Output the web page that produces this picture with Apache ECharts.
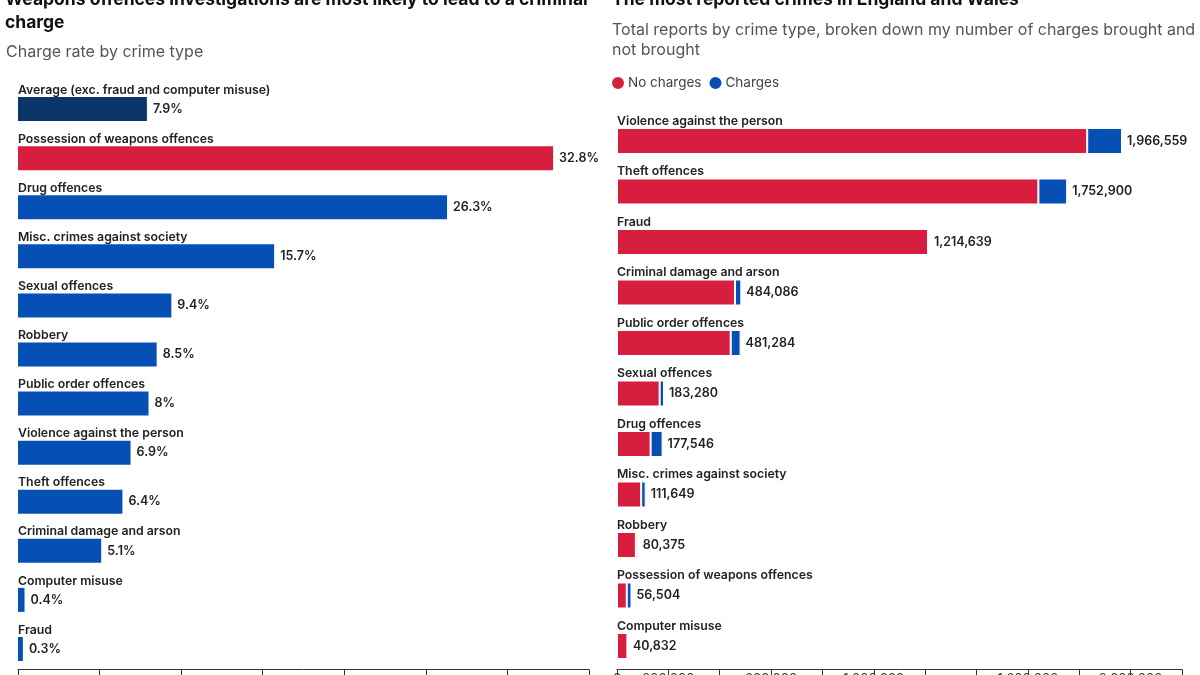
<!DOCTYPE html>
<html><head><meta charset="utf-8">
<script src="https://cdn.jsdelivr.net/npm/echarts@6/dist/echarts.min.js"></script>
<style>html,body{margin:0;padding:0;background:#fff}#c{width:1200px;height:675px}</style>
</head><body><div id="c"></div>
<script>
// ---- Left chart data: charge rate by crime type (%)
const rateCategories = [
  'Average (exc. fraud and computer misuse)',
  'Possession of weapons offences',
  'Drug offences',
  'Misc. crimes against society',
  'Sexual offences',
  'Robbery',
  'Public order offences',
  'Violence against the person',
  'Theft offences',
  'Criminal damage and arson',
  'Computer misuse',
  'Fraud'
];
const rateValues = [7.9, 32.8, 26.3, 15.7, 9.4, 8.5, 8, 6.9, 6.4, 5.1, 0.4, 0.3];

// ---- Right chart data: total reports, split by charges / no charges
const crimeCategories = [
  'Violence against the person',
  'Theft offences',
  'Fraud',
  'Criminal damage and arson',
  'Public order offences',
  'Sexual offences',
  'Drug offences',
  'Misc. crimes against society',
  'Robbery',
  'Possession of weapons offences',
  'Computer misuse'
];
const crimeTotals = [1966559, 1752900, 1214639, 484086, 481284, 183280, 177546, 111649, 80375, 56504, 40832];
const noChargesValues = [1830866, 1640714, 1210995, 459398, 442781, 166052, 130851, 94120, 73543, 37971, 40669];
const chargesValues = [135693, 112186, 3644, 24688, 38503, 17228, 46695, 17529, 6832, 18533, 163];
const crimeTickLabels = [0, 200000, 600000, 1000000, 1600000, 2000000];

const RED = '#d81e3f', BLUE = '#0650b5', NAVY = '#0b3468';
const FONT = 'Inter, "Noto Sans", sans-serif';
const fmt = v => Number(v).toLocaleString('en-US');

const chart = echarts.init(document.getElementById('c'), null, {renderer: 'canvas'});
chart.setOption({
  backgroundColor: '#fff',
  animation: false,
  textStyle: {fontFamily: FONT},
  title: [
    {text: 'Weapons offences investigations are most likely to lead to a criminal\ncharge',
     left: 5, top: -12, padding: 0,
     textStyle: {fontFamily: FONT, fontSize: 17.5, fontWeight: 700, color: '#111', lineHeight: 23}},
    {text: 'Charge rate by crime type', left: 6, top: 43, padding: 0,
     textStyle: {fontFamily: FONT, fontSize: 16, fontWeight: 400, color: '#555', lineHeight: 18}},
    {text: 'The most reported crimes in England and Wales', left: 612, top: -12, padding: 0,
     textStyle: {fontFamily: FONT, fontSize: 17.5, fontWeight: 700, color: '#111', lineHeight: 23}},
    {text: 'Total reports by crime type, broken down my number of charges brought and\nnot brought',
     left: 612, top: 20, padding: 0,
     textStyle: {fontFamily: FONT, fontSize: 16, fontWeight: 400, color: '#555', lineHeight: 20}}
  ],
  legend: {
    left: 610, top: 75, padding: 0, icon: 'circle', itemWidth: 14, itemHeight: 14, itemGap: 6,
    data: ['No charges', 'Charges'],
    textStyle: {fontFamily: FONT, fontSize: 13.5, color: '#444', padding: [0, 0, 0, -2]}
  },
  grid: [
    {left: 18, top: 84.5, width: 571, height: 589, containLabel: false, outerBoundsMode: 'none'},
    {left: 617, top: 115.75, width: 565, height: 555.5, containLabel: false, outerBoundsMode: 'none'}
  ],
  xAxis: [
    {type: 'value', gridIndex: 0, min: 0, max: 35, interval: 5, offset: -4,
     axisLine: {show: true, lineStyle: {color: '#333', width: 1}},
     axisTick: {show: true, length: 6, lineStyle: {color: '#333'}},
     splitLine: {show: false},
     axisLabel: {formatter: '{value}%', margin: 8, color: '#333', fontSize: 13}},
    {type: 'value', gridIndex: 1, min: 0, max: 2200000, interval: 200000, offset: -2,
     axisLine: {show: true, lineStyle: {color: '#333', width: 1}},
     axisTick: {show: true, length: 6, lineStyle: {color: '#333'}},
     splitLine: {show: false},
     axisLabel: {margin: 3, color: '#333', fontSize: 13,
       formatter: v => crimeTickLabels.indexOf(v) >= 0 ? fmt(v) : ''}}
  ],
  yAxis: [
    {type: 'category', gridIndex: 0, inverse: true, data: rateCategories,
     axisLine: {show: false}, axisTick: {show: false},
     axisLabel: {inside: true, margin: 0, verticalAlign: 'bottom', padding: [0, 0, 12, 0],
       lineHeight: 14, fontSize: 12.3, fontWeight: 600, color: '#222', fontFamily: FONT}},
    {type: 'category', gridIndex: 1, inverse: true, data: crimeCategories,
     axisLine: {show: false}, axisTick: {show: false},
     axisLabel: {inside: true, margin: 0, verticalAlign: 'bottom', padding: [0, 0, 13, 0],
       lineHeight: 14, fontSize: 12.3, fontWeight: 600, color: '#222', fontFamily: FONT}}
  ],
  series: [
    {type: 'bar', xAxisIndex: 0, yAxisIndex: 0, data: rateValues, barWidth: 24,
     itemStyle: {color: p => p.dataIndex === 0 ? NAVY : (p.dataIndex === 1 ? RED : BLUE)},
     label: {show: true, position: 'right', distance: 6, formatter: p => p.value + '%',
       fontFamily: FONT, fontSize: 12.5, fontWeight: 600, color: '#222'}},
    {name: 'No charges', type: 'bar', stack: 'total', xAxisIndex: 1, yAxisIndex: 1,
     data: noChargesValues, barWidth: 26, color: RED,
     itemStyle: {color: RED, borderColor: '#fff', borderWidth: 1}},
    {name: 'Charges', type: 'bar', stack: 'total', xAxisIndex: 1, yAxisIndex: 1,
     data: chargesValues, barWidth: 26, color: BLUE,
     itemStyle: {color: BLUE, borderColor: '#fff', borderWidth: 1},
     label: {show: true, position: 'right', distance: 5,
       formatter: p => fmt(crimeTotals[p.dataIndex]),
       fontFamily: FONT, fontSize: 12.5, fontWeight: 600, color: '#222'}}
  ]
});
</script></body></html>
